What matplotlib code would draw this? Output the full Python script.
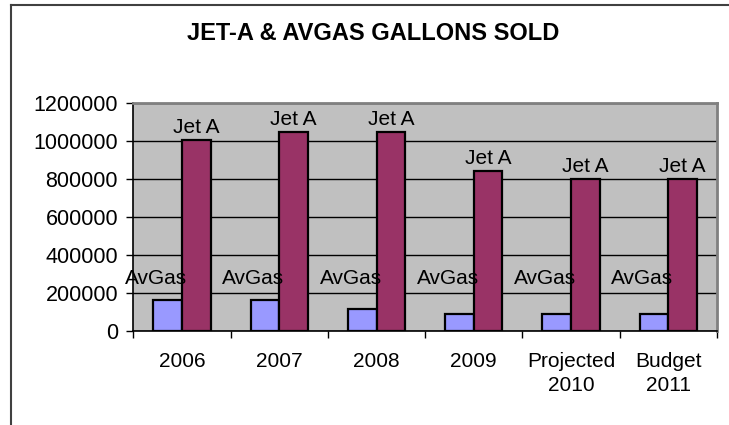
import numpy as np
import matplotlib
matplotlib.use("Agg")
import matplotlib.pyplot as plt
from matplotlib.lines import Line2D

plt.rcParams['font.family'] = ['Liberation Sans', 'DejaVu Sans']

# data
categories = ["2006", "2007", "2008", "2009", "Projected\n2010", "Budget\n2011"]
avgas = [162000, 162000, 115000, 88000, 88000, 88000]
jet_a = [1006000, 1050000, 1050000, 844000, 800000, 800000]
yticks = [0, 200000, 400000, 600000, 800000, 1000000, 1200000]

AVGAS_COLOR = "#9999FF"
JETA_COLOR = "#993366"
PLOT_BG = "#C0C0C0"

fig = plt.figure(figsize=(7.29, 4.25), dpi=100)
ax = fig.add_axes([0.1829, 0.2219, 0.8006, 0.535])
ax.set_facecolor(PLOT_BG)

x = np.arange(len(categories))
w = 0.294
ax.bar(x - w, avgas, width=w, align="edge", color=AVGAS_COLOR,
       edgecolor="black", linewidth=1.6, zorder=3)
ax.bar(x, jet_a, width=w, align="edge", color=JETA_COLOR,
       edgecolor="black", linewidth=1.6, zorder=3)

# data labels (series names)
for i in range(len(categories)):
    ax.annotate("Jet A", xy=(x[i] + w / 2, jet_a[i]), xytext=(0, 2),
                textcoords="offset points", ha="center", va="bottom",
                fontsize=15, zorder=4)
    ax.text(x[i] - w / 2 - 0.12, 274000, "AvGas", ha="center", va="center",
            fontsize=15, zorder=4)

ax.set_xlim(-0.5, len(categories) - 0.5)
ax.set_ylim(0, 1200000)
ax.set_yticks(yticks)
ax.set_yticklabels([str(v) for v in yticks])
ax.yaxis.grid(True, color="black", linewidth=1.0, zorder=1)
ax.set_axisbelow(True)

ax.set_xticks(x)
ax.set_xticklabels(categories, linespacing=1.35)
ax.set_xticks(np.arange(-0.5, len(categories)), minor=True)
ax.tick_params(axis="x", which="major", length=0, pad=15, labelsize=15)
ax.tick_params(axis="x", which="minor", length=5, width=1, direction="out", color="black")
ax.tick_params(axis="y", length=5, width=1, direction="out", pad=6, labelsize=15.5)

for side in ["left", "bottom"]:
    ax.spines[side].set_color("black")
    ax.spines[side].set_linewidth(1.2)
for side in ["top", "right"]:
    ax.spines[side].set_color("#808080")
    ax.spines[side].set_linewidth(2)

fig.text(0.512, 0.92, "JET-A & AVGAS GALLONS SOLD", ha="center", va="center",
         fontsize=17, fontweight="bold")

# chart area frame (only top and left visible)
fig.add_artist(Line2D([10.5 / 729, 10.5 / 729], [0, 1 - 5 / 425],
                      color="#404040", linewidth=1.5))
fig.add_artist(Line2D([10.5 / 729, 1], [1 - 5 / 425, 1 - 5 / 425],
                      color="#404040", linewidth=1.5))

fig.savefig("out.png", dpi=100)
